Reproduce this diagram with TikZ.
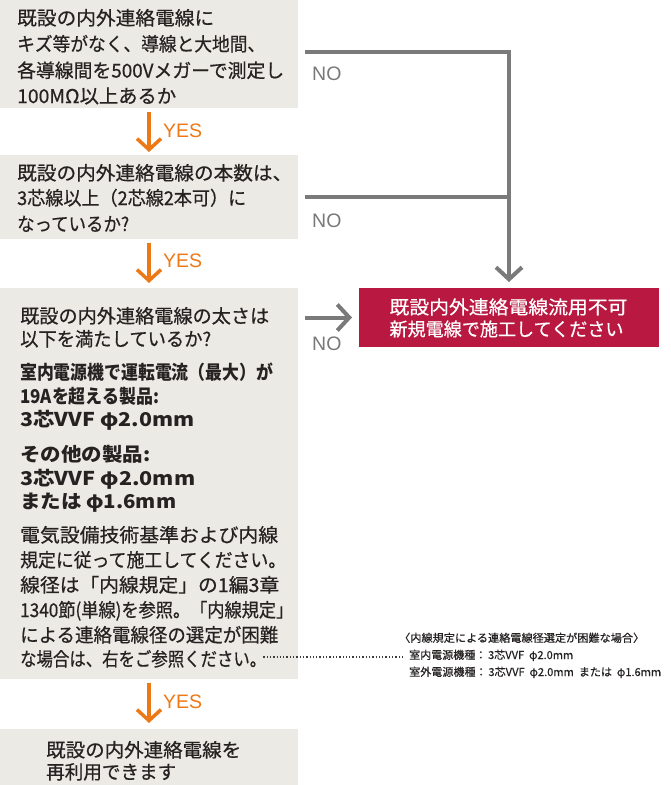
\documentclass[tikz,border=0pt]{standalone}
\usepackage{fontspec}
\usepackage{graphicx}
\usetikzlibrary{arrows.meta}
\newfontfamily\jp[FakeBold=0.6]{Noto Sans CJK JP}
\newfontfamily\jpb{Noto Sans CJK JP}
\newfontfamily\lat{Liberation Sans}
\definecolor{boxbg}{RGB}{235,234,228}
\definecolor{txt}{RGB}{38,34,34}
\definecolor{orng}{RGB}{237,120,22}
\definecolor{gline}{RGB}{122,122,122}
\definecolor{notxt}{RGB}{120,120,120}
\definecolor{crim}{RGB}{185,24,64}
\definecolor{dotc}{RGB}{60,60,60}
\newcommand\fw[2]{\resizebox{#1pt}{\height}{#2}}
\begin{document}
\begin{tikzpicture}[x=1pt,y=-1pt,
  bx/.style={fill=boxbg, draw=none, inner sep=0pt, outer sep=0pt, anchor=north west},
  tl/.style={anchor=base west, inner sep=0pt, text=txt, font=\jp\fontsize{19}{19}\selectfont},
  tlb/.style={anchor=base west, inner sep=0pt, text=txt, font=\jpb\bfseries\fontsize{19}{19}\selectfont},
  tln/.style={anchor=base west, inner sep=0pt, text=txt, font=\jp\fontsize{11}{11}\selectfont},
  tlr/.style={anchor=base, inner sep=0pt, text=white, font=\jp\fontsize{18.5}{18.5}\selectfont},
  yes/.style={anchor=base west, inner sep=0pt, text=orng, font=\lat\fontsize{19.5}{19.5}\selectfont},
  no/.style={anchor=base west, inner sep=0pt, text=notxt, font=\lat\fontsize{19.5}{19.5}\selectfont},
  yesarr/.style={draw=orng, line width=3.5pt, -{Straight Barb[length=11pt,width=24pt]}},
  noline/.style={draw=gline, line width=4pt},
  noarr/.style={noline, -{Straight Barb[length=12pt,width=26pt]}},
  dotl/.style={draw=dotc, line width=1.5pt, dash pattern=on 1.3pt off 2pt}
]
\useasboundingbox (0,0) rectangle (670,785);

% boxes
\node[bx, minimum width=298pt, minimum height=108pt] (b1) at (0,0) {};
\node[bx, minimum width=298pt, minimum height=84pt] (b2) at (0,155) {};
\node[bx, minimum width=298pt, minimum height=391pt] (b3) at (0,288) {};
\node[bx, minimum width=298pt, minimum height=56pt] (b4) at (0,729) {};
\node[bx, fill=crim, minimum width=300pt, minimum height=59pt] (r) at (359,288) {};

% box 1 text
\node[tl] (t11) at (17,25) {\fw{197}{既設の内外連絡電線に}};
\node[tl] (t12) at (17,51) {\fw{248}{キズ等がなく、導線と大地間、}};
\node[tl] (t13) at (17,77.5) {\fw{267}{各導線間を500Vメガーで測定し}};
\node[tl] (t14) at (17,103) {\fw{159}{100MΩ以上あるか}};

% box 2 text
\node[tl] (t21) at (17,180) {\fw{275}{既設の内外連絡電線の本数は、}};
\node[tl] (t22) at (17,205) {\fw{229}{3芯線以上（2芯線2本可）に}};
\node[tl] (t23) at (17,231) {\fw{112}{なっているか?}};

% box 3 text
\node[tl] (t31) at (20,323) {\fw{249}{既設の内外連絡電線の太さは}};
\node[tl] (t32) at (20,346) {\fw{191}{以下を満たしているか?}};
\node[tlb] (t33) at (20,379) {\fw{253}{室内電源機で運転電流（最大）が}};
\node[tlb] (t34) at (20,403) {\fw{139}{19Aを超える製品:}};
\node[tlb] (t35) at (20,426) {\fw{174}{3芯VVF φ2.0mm}};
\node[tlb] (t36) at (20,461) {\fw{130}{その他の製品:}};
\node[tlb] (t37) at (20,485) {\fw{175}{3芯VVF φ2.0mm}};
\node[tlb] (t38) at (20,508) {\fw{156}{または φ1.6mm}};
\node[tl] (p3d1) at (20,542) {\fw{258}{電気設備技術基準および内線}};
\node[tl] (p3d2) at (20,567) {\fw{266}{規定に従って施工してください。}};
\node[tl] (p3d3) at (20,592) {\fw{259}{線径は「内線規定」の1編3章}};
\node[tl] (p3d4) at (20,617) {\fw{273}{1340節(単線)を参照。「内線規定」}};
\node[tl] (p3d5) at (20,642) {\fw{258}{による連絡電線径の選定が困難}};
\node[tl] (p3d6) at (20,666) {\fw{246}{な場合は、右をご参照ください。}};

% box 4 text
\node[tl] (t41) at (46,757) {\fw{195}{既設の内外連絡電線を}};
\node[tl] (t42) at (46,779) {\fw{130}{再利用できます}};

% red box text
\node[tlr] (r1) at (508.5,314) {\fw{238}{既設内外連絡電線流用不可}};
\node[tlr] (r2) at (506.5,336) {\fw{234}{新規電線で施工してください}};

% note text
\node[tln] (nt1) at (399,642) {\fw{245}{〈内線規定による連絡電線径選定が困難な場合〉}};
\node[tln] (nt2) at (409,659) {\fw{164}{室内電源機種：\,3芯VVF\ \ φ2.0mm}};
\node[tln] (nt3) at (409,676) {\fw{252}{室外電源機種：\,3芯VVF\ \ φ2.0mm\ \ または\ \ φ1.6mm}};

% YES arrows
\draw[yesarr, shorten <=4pt, shorten >=3pt] (b1.south) -- (b2.north);
\draw[yesarr, shorten <=4pt, shorten >=5pt] (b2.south) -- (b3.north);
\draw[yesarr, shorten <=4pt, shorten >=6pt] (b3.south) -- (b4.north);
\node[yes] (y1) at (163,137) {YES};
\node[yes] (y2) at (163,267) {YES};
\node[yes] (y3) at (163,708) {YES};

% NO connectors
\coordinate (h3s) at (b3.east |- r.west);
\draw[noarr] ([shift={(7pt,2pt)}]b1.east) -| ([yshift=6pt]r.north);
\draw[noline] ([xshift=7pt]b2.east) -- (b2.east -| r.north);
\draw[noarr] ([xshift=7pt]h3s) -- ([xshift=-7pt]r.west);
\node[no] (n1) at (312,80) {NO};
\node[no] (n2) at (312,227) {NO};
\node[no] (n3) at (312,350) {NO};

% dotted leader
\draw[dotl] ([shift={(-3pt,9pt)}]p3d6.base east) -- ([shift={(-6pt,2pt)}]nt2.base west);
\end{tikzpicture}
\end{document}
